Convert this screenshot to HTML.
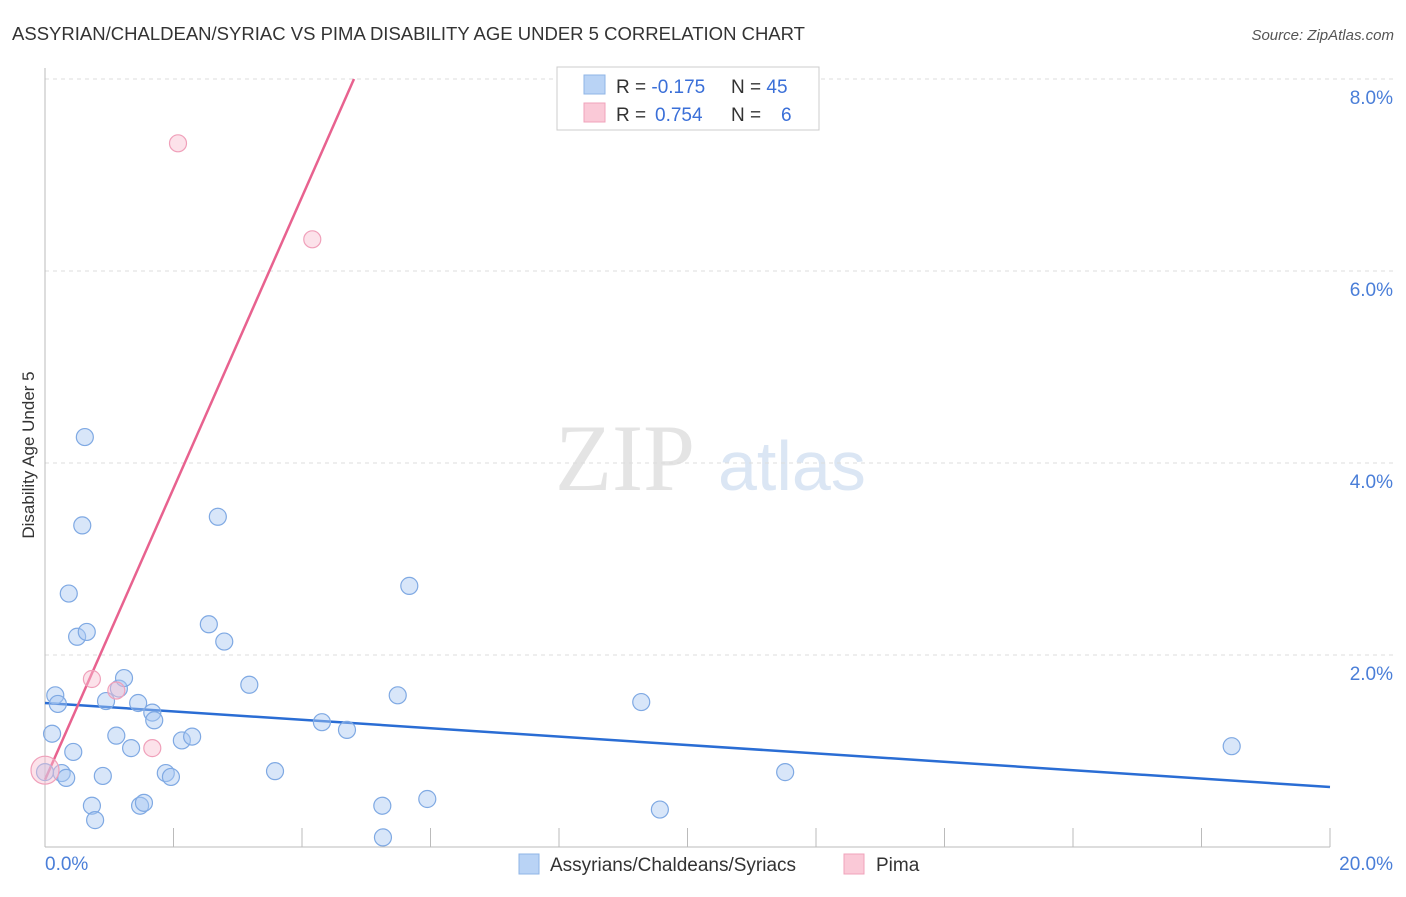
<!DOCTYPE html>
<html><head><meta charset="utf-8"><style>
body{margin:0;background:#fff;font-family:"Liberation Sans",sans-serif;}
svg text{font-family:"Liberation Sans",sans-serif;}
</style></head><body>
<svg id="c" width="1406" height="892" xmlns="http://www.w3.org/2000/svg">
<text x="12" y="40" font-size="18" fill="#333" textLength="793" lengthAdjust="spacingAndGlyphs">ASSYRIAN/CHALDEAN/SYRIAC VS PIMA DISABILITY AGE UNDER 5 CORRELATION CHART</text>
<text x="1394" y="40" font-size="15" fill="#555" font-style="italic" text-anchor="end">Source: ZipAtlas.com</text>
<g><text x="555" y="490" font-size="95" fill="#e4e4e4" textLength="140" lengthAdjust="spacingAndGlyphs" style="font-family:'Liberation Serif',serif">ZIP</text><text x="718" y="490" font-size="70" fill="#dbe6f4">atlas</text></g>
<text transform="translate(34,455) rotate(-90)" font-size="17" fill="#333" text-anchor="middle">Disability Age Under 5</text>
<g id="grid"></g><g id="axes"></g><g id="trends"></g><g id="pts"></g>
<g>
<rect x="557" y="67" width="262" height="63" fill="#fff" stroke="#ccc"/>
<rect x="584" y="75" width="21" height="19" fill="#b9d3f5" stroke="#8fb4e6"/>
<rect x="584" y="103" width="21" height="19" fill="#fac9d7" stroke="#f0a3bb"/>
<text x="616" y="93" font-size="19" fill="#333">R = <tspan fill="#3a6fd8">-0.175</tspan><tspan x="731">N = </tspan><tspan fill="#3a6fd8">45</tspan></text>
<text x="616" y="121" font-size="19" fill="#333">R = <tspan fill="#3a6fd8" x="655">0.754</tspan><tspan x="731">N = </tspan><tspan fill="#3a6fd8" x="781">6</tspan></text>
</g>
<g>
<rect x="519" y="854" width="20" height="20" fill="#b9d3f5" stroke="#8fb4e6"/>
<text x="550" y="871" font-size="19" fill="#333">Assyrians/Chaldeans/Syriacs</text>
<rect x="844" y="854" width="20" height="20" fill="#fac9d7" stroke="#f0a3bb"/>
<text x="876" y="871" font-size="19" fill="#333">Pima</text>
</g>
</svg>
<script>
const blueX=[0.62,0.58,0.37,0.50,0.65,0.16,0.20,0.11,0.44,0.26,0.33,0.73,0.78,0.90,0.95,1.11,1.15,1.23,1.34,1.45,1.67,1.70,1.88,1.96,1.48,1.54,2.13,2.29,2.55,2.69,2.79,3.18,3.58,4.31,4.70,5.25,5.26,5.49,5.67,5.95,9.28,9.57,11.52,18.47,0.0];
const blueY=[4.27,3.35,2.64,2.19,2.24,1.58,1.49,1.18,0.99,0.77,0.72,0.43,0.28,0.74,1.52,1.16,1.65,1.76,1.03,1.50,1.40,1.32,0.77,0.73,0.43,0.46,1.11,1.15,2.32,3.44,2.14,1.69,0.79,1.30,1.22,0.43,0.10,1.58,2.72,0.50,1.51,0.39,0.78,1.05,0.78];
const pinkX=[2.07,4.16,0.73,1.11,1.67,0.0];
const pinkY=[7.33,6.33,1.75,1.63,1.03,0.80];
const pinkR=[8.5,8.5,8.5,8.5,8.5,14];
const blueTrend=[1.50,0.625];
const pinkTrend=[0.70,1.518];
const yTicks=[2,4,6,8];
const xTickLabels=["0.0%","20.0%"];
const NS="http://www.w3.org/2000/svg";
const sx=v=>45+v*64.25, sy=v=>847-v*96;
function mk(t,a,p){const e=document.createElementNS(NS,t);for(const k in a)e.setAttribute(k,a[k]);p.appendChild(e);return e;}
const grid=document.getElementById('grid'),axes=document.getElementById('axes'),tr=document.getElementById('trends'),pts=document.getElementById('pts');
yTicks.forEach(v=>{
const l=mk('line',{x1:45,x2:1394,y1:sy(v),y2:sy(v),stroke:'#ddd','stroke-dasharray':'4,4'},grid);


const t=mk('text',{x:1393,y:sy(v)+25,'font-size':19,fill:'#4a7ed8','text-anchor':'end'},axes);
t.textContent=v.toFixed(1)+'%';


});
mk('line',{x1:45,x2:45,y1:68,y2:847,stroke:'#bbb'},axes);
mk('line',{x1:45,x2:1330,y1:847,y2:847,stroke:'#bbb'},axes);
for(let i=0;i<=10;i++){mk('line',{x1:sx(i*2),x2:sx(i*2),y1:828,y2:847,stroke:'#bbb'},axes);}
[[0,45,'start'],[20,1393,'end']].forEach((d,i)=>{
const t=mk('text',{x:d[1],y:870,'font-size':19,fill:'#4a7ed8','text-anchor':d[2]},axes);
t.textContent=xTickLabels[i];


});
const bl=mk('line',{x1:sx(0),y1:sy(blueTrend[0]),x2:sx(20),y2:sy(blueTrend[1]),stroke:'#2a6dd4','stroke-width':2.5},tr);


const pxEnd=(8-pinkTrend[0])/pinkTrend[1];
const pl=mk('line',{x1:sx(0),y1:sy(pinkTrend[0]),x2:sx(pxEnd),y2:sy(8),stroke:'#e8628f','stroke-width':2.5},tr);


blueX.forEach((x,i)=>{
const c=mk('circle',{cx:sx(x),cy:sy(blueY[i]),r:8.5,fill:'rgba(168,200,242,0.45)',stroke:'#7fa9e3','stroke-width':1.2},pts);


});
pinkX.forEach((x,i)=>{
const c=mk('circle',{cx:sx(x),cy:sy(pinkY[i]),r:pinkR[i],fill:'rgba(248,190,208,0.45)',stroke:'#f0a0ba','stroke-width':1.2},pts);


});
</script>
</body></html>
